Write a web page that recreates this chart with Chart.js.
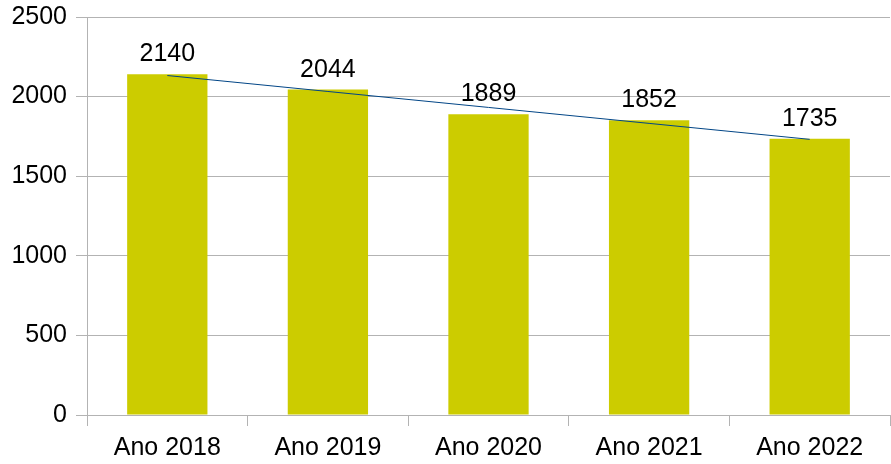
<!DOCTYPE html>
<html>
<head>
<meta charset="utf-8">
<script src="https://cdn.jsdelivr.net/npm/chart.js@4/dist/chart.umd.min.js"></script>
<style>
html,body{margin:0;padding:0;background:#fff;}
#wrap{width:891px;height:464px;}
</style>
</head>
<body>
<div id="wrap"><canvas id="c" width="891" height="464"></canvas></div>
<script>
const categories = ["Ano 2018", "Ano 2019", "Ano 2020", "Ano 2021", "Ano 2022"];
const values = [2140, 2044, 1889, 1852, 1735];
const yTicks = [0, 500, 1000, 1500, 2000, 2500];

// linear trend line (least squares) from the series values
const n = values.length;
const xm = (n + 1) / 2;
const ym = values.reduce((a, b) => a + b, 0) / n;
let sxy = 0, sxx = 0;
values.forEach((v, i) => { const dx = (i + 1) - xm; sxy += dx * (v - ym); sxx += dx * dx; });
const slope = sxy / sxx;
const trend = values.map((v, i) => ym + slope * ((i + 1) - xm));

const FONT = "'Liberation Sans', Arial, sans-serif";
const FS = 25;

const labelPlugin = {
  id: 'barLabels',
  afterDatasetsDraw(chart) {
    const ctx = chart.ctx;
    const meta = chart.getDatasetMeta(0);
    ctx.save();
    ctx.font = FS + "px " + FONT;
    ctx.fillStyle = "#000";
    ctx.textAlign = "center";
    ctx.textBaseline = "alphabetic";
    meta.data.forEach((bar, i) => {
      ctx.fillText(String(values[i]), bar.x, bar.y - 13);
    });
    ctx.restore();
  }
};

new Chart(document.getElementById('c'), {
  data: {
    labels: categories,
    datasets: [
      {
        type: 'bar',
        data: values,
        backgroundColor: '#CCCC00',
        barPercentage: 1.0,
        categoryPercentage: 0.5,
        order: 2
      },
      {
        type: 'line',
        data: trend,
        borderColor: '#004586',
        borderWidth: 1,
        pointRadius: 0,
        fill: false,
        tension: 0,
        order: 1
      }
    ]
  },
  options: {
    responsive: false,
    animation: false,
    layout: { padding: { top: 17, right: 1, left: 0, bottom: 0 } },
    plugins: { legend: { display: false }, tooltip: { enabled: false } },
    scales: {
      x: {
        offset: true,
        grid: {
          offset: true,
          drawOnChartArea: false,
          drawTicks: true,
          tickLength: 11,
          color: '#b3b3b3',
          lineWidth: 1
        },
        border: { color: '#b3b3b3', width: 1 },
        ticks: { color: '#000', font: { family: FONT, size: FS }, padding: 7, maxRotation: 0 },
        afterFit(scale) { scale.height = 49; scale.paddingLeft = 0; scale.paddingRight = 0; }
      },
      y: {
        min: 0,
        max: 2500,
        afterBuildTicks(scale) { scale.ticks = yTicks.map(v => ({ value: v })); },
        grid: { color: '#b3b3b3', lineWidth: 1, tickLength: 11 },
        border: { color: '#b3b3b3', width: 1 },
        ticks: { color: '#000', font: { family: FONT, size: FS }, padding: 9, callback: (v) => String(v) },
        afterFit(scale) { scale.width = 87; scale.paddingTop = 0; scale.paddingBottom = 0; }
      }
    }
  },
  plugins: [labelPlugin]
});
</script>
</body>
</html>
